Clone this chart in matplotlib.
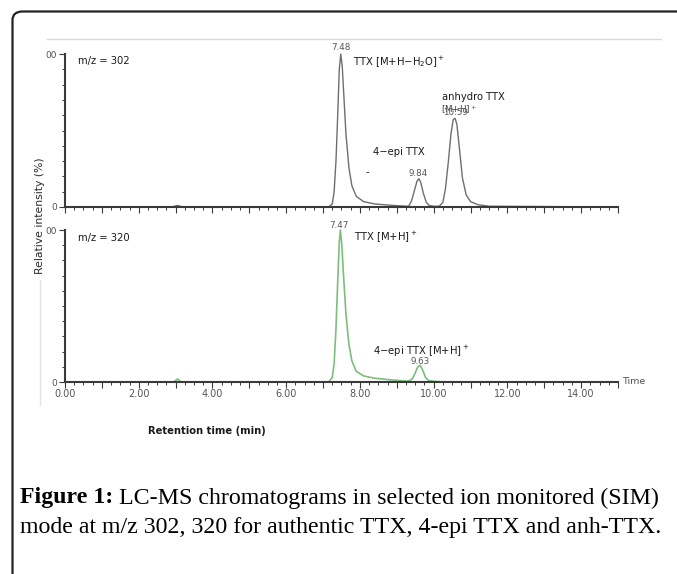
import numpy as np
import matplotlib
matplotlib.use("Agg")
import matplotlib.pyplot as plt
from matplotlib.patches import FancyBboxPatch
from matplotlib.ticker import MultipleLocator, FixedLocator

plt.rcParams['font.family'] = ['DejaVu Sans']
plt.rcParams['mathtext.default'] = 'regular'

# m/z 302 trace (time in min, relative intensity in %)
t302 = [0.0, 2.9, 3.05, 3.2, 7.15, 7.25, 7.30, 7.35, 7.40, 7.44, 7.48, 7.52, 7.57,
        7.62, 7.70, 7.78, 7.90, 8.10, 8.40, 8.80, 9.20, 9.32, 9.40, 9.48, 9.55, 9.60,
        9.65, 9.72, 9.80, 9.88, 10.0, 10.15, 10.25, 10.32, 10.40, 10.47, 10.53, 10.58,
        10.63, 10.70, 10.78, 10.88, 11.00, 11.2, 11.5, 15.0]
i302 = [0, 0, 1, 0, 0, 2, 10, 30, 62, 90, 100, 92, 70,
        48, 26, 14, 7, 3.5, 2, 1.2, 0.6, 0.5, 4, 11, 17, 18.5,
        16, 9, 3, 1, 0.5, 0.5, 3, 12, 30, 48, 57, 58,
        54, 38, 19, 8, 3.5, 1.5, 0.5, 0]

# m/z 320 trace
t320 = [0.0, 2.95, 3.05, 3.15, 7.15, 7.25, 7.30, 7.35, 7.40, 7.44, 7.47, 7.51, 7.56,
        7.62, 7.70, 7.78, 7.90, 8.10, 8.40, 8.80, 9.30, 9.42, 9.50, 9.57, 9.63, 9.70,
        9.78, 9.86, 10.0, 10.3, 15.0]
i320 = [0, 0, 2, 0, 0, 3, 12, 35, 68, 92, 100, 90, 68,
        45, 25, 14, 7, 4, 2.5, 1.5, 0.5, 2, 6, 10, 11, 8,
        3, 1, 0.5, 0, 0]

xticklabels = ['0.00', '2.00', '4.00', '6.00', '8.00', '10.00', '12.00', '14.00']
yticklabels = ['0', '00']

W, H = 677, 574
fig = plt.figure(figsize=(W / 100, H / 100), dpi=100)

def box(l, t, r, b):
    return [l / W, 1 - b / H, (r - l) / W, (b - t) / H]

ax1 = fig.add_axes(box(65, 54, 618, 207))
ax2 = fig.add_axes(box(65, 230, 618, 382))

spine_c = '#3a3a3a'
for ax in (ax1, ax2):
    ax.set_xlim(0, 15)
    ax.set_ylim(0, 100)
    for s in ('top', 'right'):
        ax.spines[s].set_visible(False)
    for s in ('left', 'bottom'):
        ax.spines[s].set_color(spine_c)
        ax.spines[s].set_linewidth(1.5)
    ax.xaxis.set_major_locator(MultipleLocator(1))
    ax.xaxis.set_minor_locator(MultipleLocator(0.25))
    ax.yaxis.set_major_locator(FixedLocator([0, 100]))
    ax.yaxis.set_minor_locator(FixedLocator([10, 20, 30, 40, 50, 60, 70, 80, 90]))
    ax.set_yticklabels(yticklabels)
    ax.tick_params(axis='both', which='major', direction='out', length=4,
                   width=0.8, color=spine_c, labelsize=6.5, labelcolor='#555555', pad=1.5)
    ax.tick_params(axis='both', which='minor', direction='out', length=2.5,
                   width=0.7, color=spine_c)
    ax.patch.set_alpha(0)

ax1.set_xticklabels([])
ax2.set_xticks(np.arange(0, 15.01, 1))
ax2.set_xticklabels([xticklabels[i // 2] if i % 2 == 0 else '' for i in range(16)])
ax2.tick_params(axis='x', labelsize=7, pad=1)

ax1.plot(t302, i302, color='#6e6e6e', lw=1.0, clip_on=False)
ax2.plot(t320, i320, color='#7cbf7c', lw=1.2, clip_on=False)

lab = dict(fontsize=7.2, color='#1a1a1a')
rt = dict(fontsize=6.3, color='#555555', ha='center', va='center')

ax1.text(0.35, 95.4, 'm/z = 302', va='center', **lab)
ax1.text(7.49, 104, '7.48', clip_on=False, **rt)
ax1.text(7.81, 94.8, r'TTX [M+H$-$H$_2$O]$^+$', va='center', **lab)
ax1.text(10.22, 71.9, 'anhydro TTX', va='center', **lab)
ax1.text(10.20, 63.5, r'[M+H]$^+$', va='center', fontsize=6.3, color='#444444')
ax1.text(10.58, 61.5, '10.59', **rt)
ax1.text(8.35, 36, '4\u2212epi TTX', va='center', **lab)
ax1.text(8.16, 23, '-', va='center', **lab)
ax1.text(9.57, 22.2, '9.84', **rt)

ax2.text(0.35, 94.7, 'm/z = 320', va='center', **lab)
ax2.text(7.43, 102.8, '7.47', clip_on=False, **rt)
ax2.text(7.84, 95.4, r'TTX [M+H]$^+$', va='center', **lab)
ax2.text(8.35, 20.4, r'4$-$epi TTX [M+H]$^+$', va='center', **lab)
ax2.text(9.63, 13.2, '9.63', **rt)
ax2.text(15.1, 0.5, 'Time', va='center', ha='left', fontsize=6.8, color='#555555',
         clip_on=False)

# axis titles
fig.text(40 / W, 1 - 216 / H, 'Relative intensity (%)', rotation=90,
         ha='center', va='center', fontsize=7.8, color='#2a2a2a')
fig.text(207 / W, 1 - 431 / H, 'Retention time (min)', ha='center', va='center',
         fontsize=7.2, fontweight='bold', color='#1a1a1a')

# light guide lines
fig.add_artist(plt.Line2D([47 / W, 661 / W], [1 - 39 / H, 1 - 39 / H],
                          color='#d8d8d8', lw=1.0))
fig.add_artist(plt.Line2D([40 / W, 40 / W], [1 - 280 / H, 1 - 405 / H],
                          color='#e4e4e4', lw=1.0))

# figure frame (only top and left visible)
frame = FancyBboxPatch((12.5 / W, -0.2), 1.2, 1 - 11.5 / H + 0.2,
                       boxstyle='round,pad=0,rounding_size=0.015',
                       transform=fig.transFigure, fill=False,
                       edgecolor='#222222', lw=1.6, clip_on=False)
fig.add_artist(frame)

# caption
cap = dict(family=['Liberation Serif', 'DejaVu Serif'], fontsize=17.2, color='black',
           va='center', ha='left')
t1 = fig.text(20 / W, 1 - 498 / H, 'Figure 1:', fontweight='bold', **cap)
r = fig.canvas.get_renderer()
x1 = t1.get_window_extent(renderer=r).x1
fig.text((x1 + 6) / W, 1 - 498 / H,
         'LC-MS chromatograms in selected ion monitored (SIM)', **cap)
fig.text(20 / W, 1 - 527 / H,
         'mode at m/z 302, 320 for authentic TTX, 4-epi TTX and anh-TTX.', **cap)

fig.savefig('out.png', dpi=100)
